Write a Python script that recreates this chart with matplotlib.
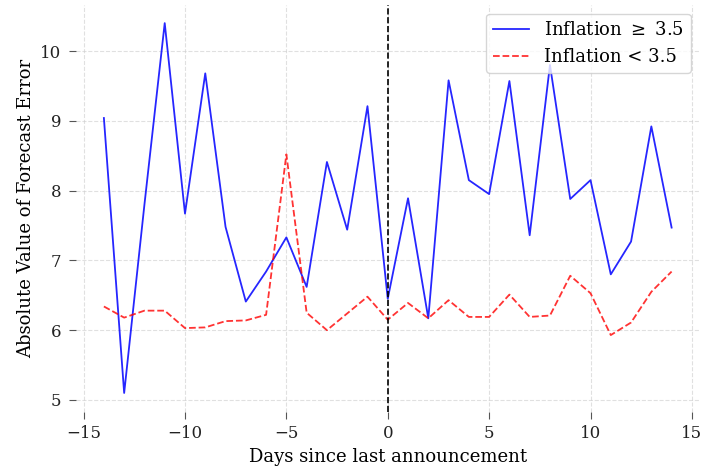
import matplotlib
matplotlib.use("Agg")
import matplotlib.pyplot as plt

plt.rcParams['font.family'] = 'DejaVu Serif'
plt.rcParams['mathtext.fontset'] = 'dejavuserif'

# days relative to the announcement
days = list(range(-14, 15))

# mean absolute forecast error, high inflation periods
high_infl = [9.04, 5.10, 7.80, 10.40, 7.67, 9.68, 7.48, 6.41, 6.84, 7.33,
             6.62, 8.41, 7.44, 9.21, 6.45, 7.89, 6.17, 9.58, 8.15, 7.95,
             9.57, 7.36, 9.80, 7.88, 8.15, 6.80, 7.27, 8.92, 7.47]

# mean absolute forecast error, low inflation periods
low_infl = [6.34, 6.18, 6.28, 6.28, 6.03, 6.04, 6.13, 6.14, 6.22, 8.52,
            6.25, 6.00, 6.24, 6.48, 6.15, 6.39, 6.17, 6.43, 6.19, 6.19,
            6.51, 6.19, 6.21, 6.78, 6.53, 5.93, 6.11, 6.55, 6.84]

fig, ax = plt.subplots(figsize=(7.05, 4.69), dpi=100)
fig.subplots_adjust(left=75.5/705, right=700/705, top=1-4.6/469, bottom=1-411.5/469)

ax.plot(days, high_infl, color='blue', lw=1.3, alpha=0.85, label=r'Inflation $\geq$ 3.5')
ax.plot(days, low_infl, color='red', ls='--', lw=1.3, alpha=0.8, label='Inflation < 3.5')
ax.axvline(0, color='black', ls='--', lw=1.2)

ax.set_xlabel('Days since last announcement', fontsize=13)
ax.set_ylabel('Absolute Value of Forecast Error', fontsize=13)
ax.set_xticks([-15, -10, -5, 0, 5, 10, 15])
ax.set_yticks([5, 6, 7, 8, 9, 10])
ax.tick_params(labelsize=12, color='#555555', length=5, width=0.8, pad=5, labelcolor='#222222')

for s in ax.spines.values():
    s.set_visible(False)
ax.grid(True, ls='--', color='#cccccc', alpha=0.6, lw=0.8)

ax.legend(loc='upper right', fontsize=13, framealpha=0.8, edgecolor='#cccccc')

fig.savefig('out.png', dpi=100)
